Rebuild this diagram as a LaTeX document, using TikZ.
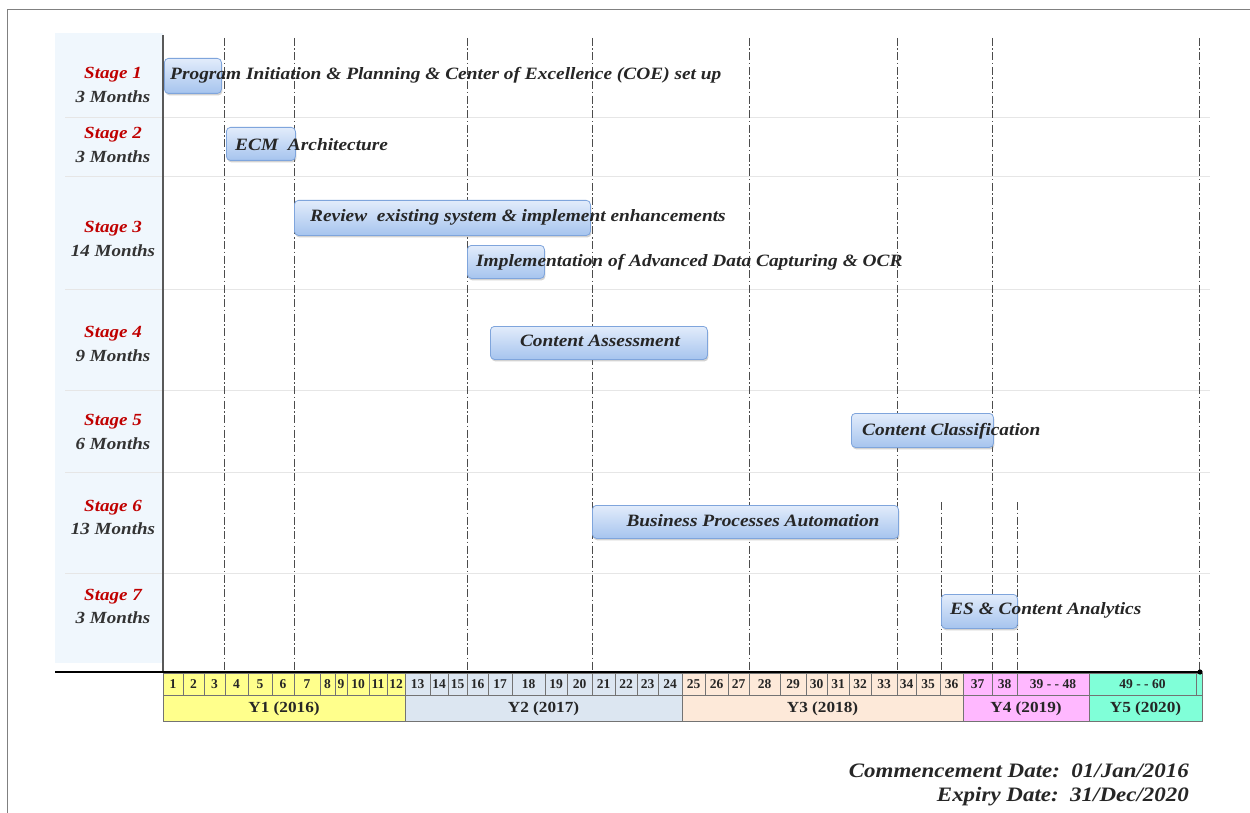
\documentclass[tikz,border=0pt]{standalone}
\usepackage{fontspec}
\setmainfont{Liberation Serif}
\newfontfamily\wideserif[FakeStretch=1.12]{Liberation Serif}
\usetikzlibrary{shadows}
\definecolor{yA}{HTML}{FFFF8C}
\definecolor{yB}{HTML}{DCE6F1}
\definecolor{yC}{HTML}{FDE9D9}
\definecolor{yD}{HTML}{FFB8FF}
\definecolor{yE}{HTML}{80FFD8}
\definecolor{panel}{HTML}{F0F7FD}
\definecolor{sep}{HTML}{E6E6E6}
\definecolor{stagered}{HTML}{C00000}
\definecolor{barT}{HTML}{E2ECFB}
\definecolor{barBot}{HTML}{A6C4EE}
\definecolor{barE}{HTML}{7FA5DC}
\begin{document}
\begin{tikzpicture}[x=1pt,y=-1pt,
  bar/.style={draw=barE, line width=0.8pt, rounded corners=4pt, top color=barT, bottom color=barBot,
    drop shadow={shadow xshift=1pt, shadow yshift=-2pt, opacity=0.35}, inner sep=0, anchor=north west},
  task/.style={font=\wideserif\fontsize{17.3}{19}\selectfont\bfseries\itshape, inner sep=0, anchor=west, text=black!85},
  stagelbl/.style={font=\wideserif\fontsize{17}{19}\selectfont\bfseries\itshape, inner sep=0, text=stagered},
  monthlbl/.style={font=\wideserif\fontsize{17}{19}\selectfont\bfseries\itshape, inner sep=0, text=black!80},
  grid/.style={draw=black!70, dash pattern=on 8pt off 2.5pt on 1.5pt off 2.5pt, line width=0.9pt},
  cell/.style={draw=black!55, line width=0.6pt},
  mnum/.style={font=\fontsize{13.5}{14}\selectfont\bfseries, inner sep=0, text=black!85},
  ynum/.style={font=\wideserif\fontsize{15.4}{17}\selectfont\bfseries, inner sep=0, text=black!85},
  datelbl/.style={font=\wideserif\fontsize{20.5}{22}\selectfont\bfseries\itshape, inner sep=0, anchor=east, text=black!85}]
\useasboundingbox (0,0) rectangle (1250,813);
\fill[white] (0,0) rectangle (1250,813);
\draw[black!50, line width=1pt] (7,813) -- (7,10) -- (1250,10);
% left panel
\fill[panel] (55,33) rectangle (163,663);
% row separators
\foreach \y in {118,177,289,390,472,573}
  \draw[sep, line width=1pt] (65,\y) -- (1210,\y);
% vertical dash-dot grid lines
\foreach \x in {224,294,467,592,749,897,992,1199}
  \draw[grid] (\x,38) -- (\x,672);
\foreach \x in {941,1017}
  \draw[grid] (\x,502) -- (\x,672);
% left vertical axis
\draw[black!65, line width=1.3pt] (163,35) -- (163,672);
% month cells
\foreach \a/\b/\t/\c in {163/183/1/yA,183/204/2/yA,204/225/3/yA,225/248/4/yA,248/272/5/yA,272/294/6/yA,
  294/320/7/yA,320/335/8/yA,335/347/9/yA,347/369/10/yA,369/387/11/yA,387/405/12/yA,
  405/430/13/yB,430/448/14/yB,448/467/15/yB,467/488/16/yB,488/512/17/yB,512/545/18/yB,
  545/567/19/yB,567/592/20/yB,592/615/21/yB,615/637/22/yB,637/658/23/yB,658/682/24/yB,
  682/705/25/yC,705/728/26/yC,728/749/27/yC,749/780/28/yC,780/806/29/yC,806/827/30/yC,
  827/849/31/yC,849/871/32/yC,871/897/33/yC,897/916/34/yC,916/940/35/yC,940/963/36/yC,
  963/992/37/yD,992/1017/38/yD,1017/1089/{39 - - 48}/yD,1089/1196/{49 - - 60}/yE}
{
  \draw[cell, fill=\c] (\a,673) rectangle (\b,695);
  \node[mnum] (m\a) at ({(\a+\b)/2},684.5) {\t};
}
\draw[cell, fill=yE] (1196,673) rectangle (1202,695);
% year cells
\foreach \a/\b/\t/\c in {163/405/{Y1 (2016)}/yA,405/682/{Y2 (2017)}/yB,682/963/{Y3 (2018)}/yC,
  963/1089/{Y4 (2019)}/yD,1089/1202/{Y5 (2020)}/yE}
{
  \draw[cell, fill=\c] (\a,695) rectangle (\b,721);
  \node[ynum] (y\a) at ({(\a+\b)/2},709) {\t};
}
% time axis
\draw[black, line width=2.2pt] (55,672) -- (1200,672);
\fill[black] (1200,672) circle (2.6pt);
% stage labels
\node[stagelbl] (s1) at (113,75) {Stage 1};
\node[monthlbl] (d1) at (113,97) {3 Months};
\node[stagelbl] (s2) at (113,135) {Stage 2};
\node[monthlbl] (d2) at (113,157) {3 Months};
\node[stagelbl] (s3) at (113,229) {Stage 3};
\node[monthlbl] (d3) at (113,251) {14 Months};
\node[stagelbl] (s4) at (113,334) {Stage 4};
\node[monthlbl] (d4) at (113,356) {9 Months};
\node[stagelbl] (s5) at (113,422) {Stage 5};
\node[monthlbl] (d5) at (113,444) {6 Months};
\node[stagelbl] (s6) at (113,508) {Stage 6};
\node[monthlbl] (d6) at (113,529) {13 Months};
\node[stagelbl] (s7) at (113,597) {Stage 7};
\node[monthlbl] (d7) at (113,618) {3 Months};
% bars
\node[bar, minimum width=57pt, minimum height=35pt] (b1) at (164,58) {};
\node[bar, minimum width=69pt, minimum height=33pt] (b2) at (226,127) {};
\node[bar, minimum width=296pt, minimum height=35pt] (b3) at (294,200) {};
\node[bar, minimum width=77pt, minimum height=33pt] (b3b) at (467,245) {};
\node[bar, minimum width=217pt, minimum height=33pt] (b4) at (490,326) {};
\node[bar, minimum width=142pt, minimum height=34pt] (b5) at (851,413) {};
\node[bar, minimum width=306pt, minimum height=33pt] (b6) at (592,505) {};
\node[bar, minimum width=76pt, minimum height=34pt] (b7) at (941,594) {};
% task texts
\node[task] (t1) at (170,75) {Program Initiation \& Planning \& Center of Excellence (COE) set up};
\node[task] (t2) at (235,145) {ECM\ \ Architecture};
\node[task] (t3) at (310,217) {Review\ \ existing system \& implement enhancements};
\node[task] (t3b) at (476,262) {Implementation of Advanced Data Capturing \& OCR};
\node[task, anchor=center] (t4) at (600,341) {Content Assessment};
\node[task] (t5) at (862,431) {Content Classification};
\node[task, anchor=center] (t6) at (753,521) {Business Processes Automation};
\node[task] (t7) at (950,610) {ES \& Content Analytics};
% dates
\node[datelbl] (c1) at (1189,771) {Commencement Date:\ \ 01/Jan/2016};
\node[datelbl] (c2) at (1189,797) {Expiry Date:\ \ 31/Dec/2020};
\end{tikzpicture}
\end{document}
